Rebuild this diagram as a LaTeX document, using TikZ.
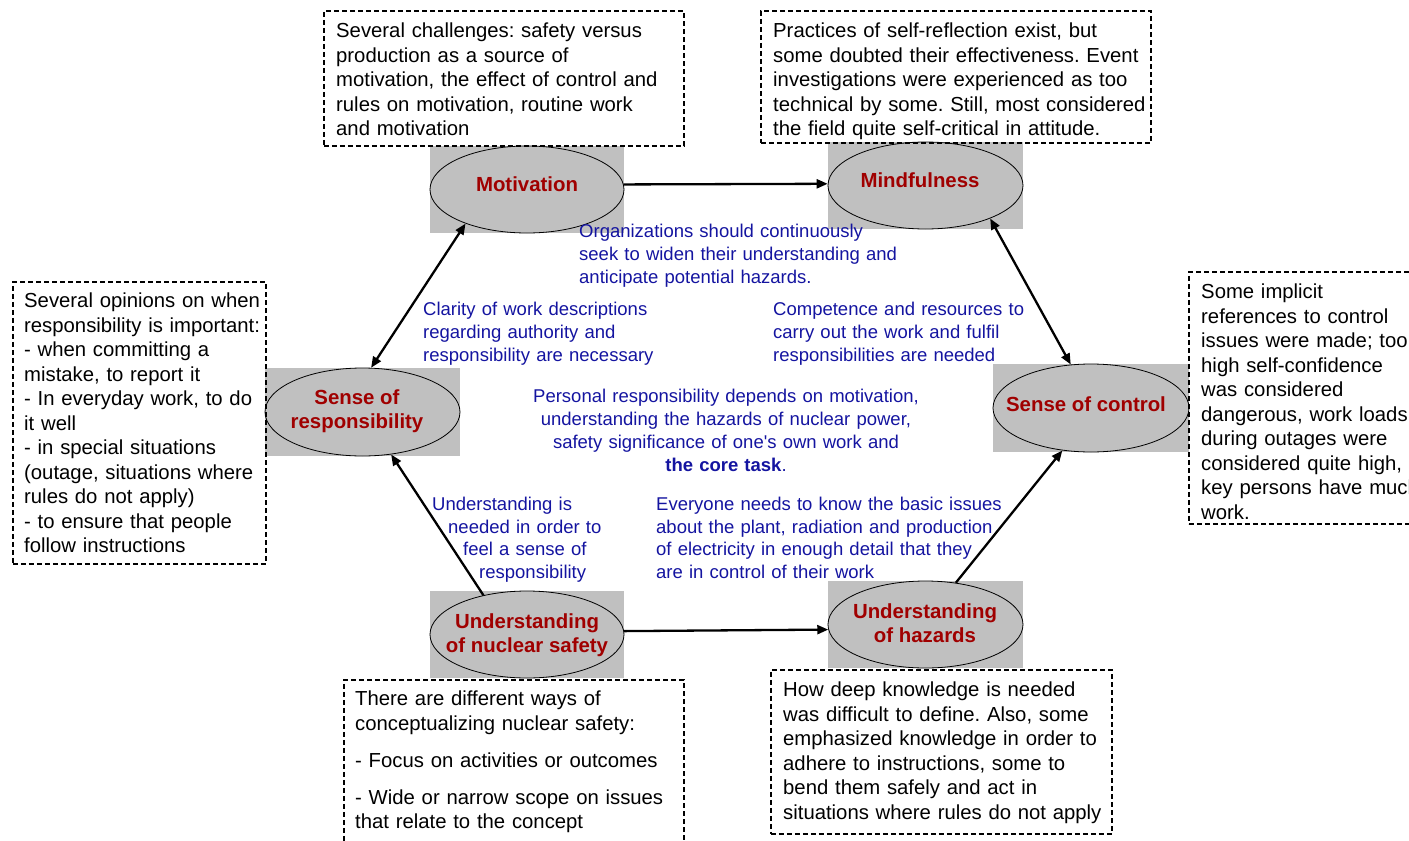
\documentclass[tikz,border=0pt]{standalone}
\usepackage{fontspec}
\setmainfont{Liberation Sans}[Ligatures=TeXOff]
\usetikzlibrary{shapes.geometric,arrows.meta}
\definecolor{dred}{RGB}{160,0,0}
\definecolor{dblue}{RGB}{20,20,160}
\definecolor{boxgray}{RGB}{192,192,192}
\frenchspacing
\begin{document}
\begin{tikzpicture}[x=1pt,y=-1pt,
  grayrect/.style={rectangle, fill=boxgray, draw=none, inner sep=0pt},
  ell/.style={ellipse, draw, line width=0.8pt, fill=boxgray, inner sep=0pt},
  lbl/.style={font=\fontsize{20.4}{24}\selectfont\bfseries, text=dred, align=center, inner sep=0pt},
  notebox/.style={rectangle, draw, line width=1.5pt, dash pattern=on 5pt off 3pt, inner sep=0pt, anchor=north west},
  txt/.style={font=\fontsize{20.3}{24.5}\selectfont, align=left, text width=420pt, inner sep=0pt, anchor=base west},
  btxt/.style={font=\fontsize{18.5}{23}\selectfont, text=dblue, align=left, text width=420pt, inner sep=0pt, anchor=base west},
  arr/.style={line width=2.3pt, -{Triangle[length=11pt,width=9pt]}},
  darr/.style={line width=2.3pt, {Triangle[length=11pt,width=9pt]}-{Triangle[length=11pt,width=9pt]}}
]
\useasboundingbox (0,0) rectangle (1409,841);
\clip (0,0) rectangle (1409,841);

% gray backgrounds
\node[grayrect, minimum width=194pt, minimum height=87pt] (motbg) at (527,189.5) {};
\node[grayrect, minimum width=195pt, minimum height=87pt] (mindbg) at (925.5,185.5) {};
\node[grayrect, minimum width=195pt, minimum height=88pt] (sorbg) at (362.5,412) {};
\node[grayrect, minimum width=196pt, minimum height=88pt] (socbg) at (1091,408) {};
\node[grayrect, minimum width=194pt, minimum height=87pt] (unsbg) at (527,634.5) {};
\node[grayrect, minimum width=195pt, minimum height=87pt] (uhbg) at (925.5,624.5) {};

% ellipses
\node[ell, minimum width=194pt, minimum height=87pt] (mot) at (527,189.5) {};
\node[ell, minimum width=195pt, minimum height=87pt] (mind) at (925.5,185.5) {};
\node[ell, minimum width=195pt, minimum height=88pt] (sor) at (362.5,412) {};
\node[ell, minimum width=196pt, minimum height=88pt] (soc) at (1091,408) {};
\node[ell, minimum width=194pt, minimum height=87pt] (uns) at (527,634.5) {};
\node[ell, minimum width=195pt, minimum height=87pt] (uh) at (925.5,624.5) {};

% labels
\node[lbl] (motl) at (527,184) {Motivation};
\node[lbl] (mindl) at (920,180) {Mindfulness};
\node[lbl] (sorl) at (357,411) {Sense of\\responsibility};
\node[lbl] (socl) at (1086,404) {Sense of control};
\node[lbl] (unsl) at (527,635) {Understanding\\of nuclear safety};
\node[lbl] (uhl) at (925,623) {Understanding\\of hazards};

% connectors
\draw[arr] (mot.3) -- (mind.179);
\draw[darr] (mot.209) -- (sor.79);
\draw[darr] (mind.333) -- (soc.115.5);
\draw[arr] (uns.138.4) -- (sor.304.5);
\draw[arr] (uns.2.7) -- (uh.183.2);
\draw[arr] (uh.54.6) -- (soc.236.6);

% dashed note boxes
\node[notebox, minimum width=360pt, minimum height=135pt] (n1) at (323,10) {};
\node[notebox, minimum width=390pt, minimum height=132pt] (n2) at (760,10) {};
\node[notebox, minimum width=253pt, minimum height=282pt] (n3) at (12,281) {};
\node[notebox, minimum width=240pt, minimum height=252pt] (n4) at (1188,271) {};
\node[notebox, minimum width=340pt, minimum height=180pt] (n5) at (343,679) {};
\node[notebox, minimum width=341pt, minimum height=164pt] (n6) at (770,669) {};

% note texts
\node[txt] (t1) at (336,37.5) {Several challenges: safety versus\\production as a source of\\motivation, the effect of control and\\rules on motivation, routine work\\and motivation};
\node[txt] (t2) at (773,37.5) {Practices of self-reflection exist, but\\some doubted their effectiveness. Event\\investigations were experienced as too\\technical by some. Still, most considered\\the field quite self-critical in attitude.};
\node[txt] (t3) at (24,307.5) {Several opinions on when\\responsibility is important:\\- when committing a\\mistake, to report it\\- In everyday work, to do\\it well\\- in special situations\\(outage, situations where\\rules do not apply)\\- to ensure that people\\follow instructions};
\node[txt] (t4) at (1201,298.5) {Some implicit\\references to control\\issues were made; too\\high self-confidence\\was considered\\dangerous, work loads\\during outages were\\considered quite high,\\key persons have much\\work.};
\node[txt] (t5) at (355,705.5) {There are different ways of\\conceptualizing nuclear safety:\\[13pt]- Focus on activities or outcomes\\[12pt]- Wide or narrow scope on issues\\that relate to the concept};
\node[txt] (t6) at (783,696.5) {How deep knowledge is needed\\was difficult to define. Also, some\\emphasized knowledge in order to\\adhere to instructions, some to\\bend them safely and act in\\situations where rules do not apply};

% blue texts
\node[btxt] (b1) at (579,237.5) {Organizations should continuously\\seek to widen their understanding and\\anticipate potential hazards.};
\node[btxt] (b2) at (423,315.5) {Clarity of work descriptions\\regarding authority and\\responsibility are necessary};
\node[btxt] (b3) at (773,315.5) {Competence and resources to\\carry out the work and fulfil\\responsibilities are needed};
\node[btxt, align=center, anchor=base] (b4) at (726,402.5) {Personal responsibility depends on motivation,\\understanding the hazards of nuclear power,\\safety significance of one's own work and\\{\bfseries the core task}.};
\node[btxt, font=\fontsize{18.5}{22.7}\selectfont] (b5) at (432,510.5) {Understanding is\\\hspace*{16pt}needed in order to\\\hspace*{31pt}feel a sense of\\\hspace*{47pt}responsibility};
\node[btxt, font=\fontsize{18.5}{22.7}\selectfont] (b6) at (656,510.5) {Everyone needs to know the basic issues\\about the plant, radiation and production\\of electricity in enough detail that they\\are in control of their work};
\end{tikzpicture}
\end{document}
